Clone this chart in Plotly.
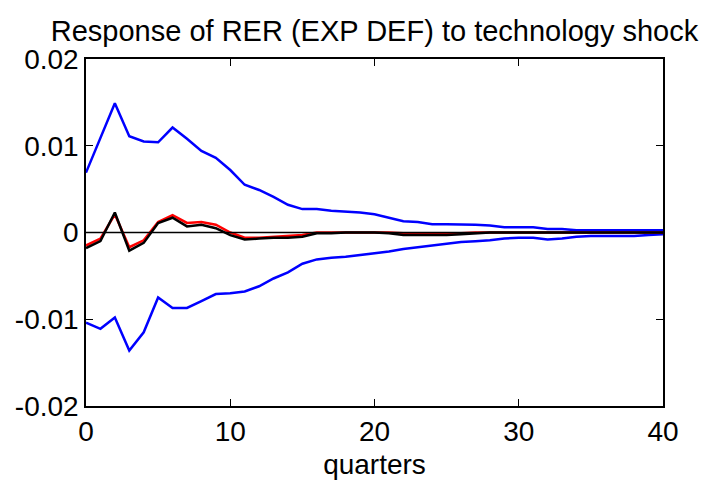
import plotly.graph_objects as go

quarters = list(range(41))

upper_band = [0.0069, 0.0110, 0.0149, 0.0111, 0.0105, 0.0104, 0.0121, 0.0108, 0.0094, 0.0086,
              0.0072, 0.0055, 0.0049, 0.0041, 0.0032, 0.0027, 0.0027, 0.0025, 0.0024, 0.0023,
              0.0021, 0.0017, 0.0013, 0.0012, 0.00095, 0.00095, 0.00095, 0.0009, 0.0008, 0.0006,
              0.0006, 0.0006, 0.0004, 0.0004, 0.00027, 0.00026, 0.00026, 0.00026, 0.00025, 0.00025,
              0.00025]

lower_band = [-0.0104, -0.0111, -0.0098, -0.0136, -0.0115, -0.0075, -0.0087, -0.0087, -0.0079, -0.0071,
              -0.0070, -0.0068, -0.0062, -0.0053, -0.0046, -0.0036, -0.0031, -0.0029, -0.0028, -0.0026,
              -0.0024, -0.0022, -0.0019, -0.0017, -0.0015, -0.0013, -0.0011, -0.0010, -0.0009, -0.0007,
              -0.0006, -0.0006, -0.0008, -0.0007, -0.0005, -0.0004, -0.0004, -0.0004, -0.0004, -0.0003,
              -0.0002]

response_black = [-0.0018, -0.0010, 0.0023, -0.0021, -0.0012, 0.0011, 0.0017, 0.0007, 0.0009, 0.0005,
                  -0.0003, -0.0008, -0.0007, -0.0006, -0.0006, -0.0005, -0.0001, -0.0001, 0.0, 0.0,
                  0.0, -0.0001, -0.0003, -0.0003, -0.0003, -0.0003, -0.0002, -0.0001, 0.0, 0.0,
                  0.0, 0.0, 0.0, 0.0, 0.0, 0.0, 0.0, 0.0, 0.0, 0.0,
                  0.0]

response_red = [-0.0015, -0.0007, 0.0021, -0.0017, -0.0009, 0.0012, 0.0020, 0.0011, 0.0012, 0.0009,
                0.0000, -0.0006, -0.0006, -0.0005, -0.0004, -0.0003, 0.0, 0.0, 0.0, 0.0,
                0.0, 0.0, -0.0001, -0.0001, -0.0001, -0.0001, -0.0001, 0.0, 0.0, 0.0,
                0.0, 0.0, 0.0, 0.0, 0.0, 0.0, 0.0, 0.0, 0.0, 0.0,
                0.0]

zero_line = [0.0] * 41

y_tickvals = [0.02, 0.01, 0.0, -0.01, -0.02]
y_ticktext = ["0.02", "0.01", "0", "-0.01", "-0.02"]
x_tickvals = [0, 10, 20, 30, 40]

FONT = "Liberation Sans, Arial, sans-serif"

fig = go.Figure()
fig.add_trace(go.Scatter(x=quarters, y=upper_band, mode="lines",
                         line=dict(color="#0000ff", width=2.5), showlegend=False))
fig.add_trace(go.Scatter(x=quarters, y=lower_band, mode="lines",
                         line=dict(color="#0000ff", width=2.5), showlegend=False))
fig.add_trace(go.Scatter(x=quarters, y=response_red, mode="lines",
                         line=dict(color="#ff0000", width=2.5), showlegend=False))
fig.add_trace(go.Scatter(x=quarters, y=response_black, mode="lines",
                         line=dict(color="#000000", width=2.5), showlegend=False))
fig.add_trace(go.Scatter(x=quarters, y=zero_line, mode="lines",
                         line=dict(color="#000000", width=1.5), showlegend=False))

fig.update_layout(
    width=718, height=488,
    margin=dict(l=86, r=55, t=59, b=82),
    paper_bgcolor="white", plot_bgcolor="white",
    font=dict(family=FONT, size=28, color="#000000"),
    title=dict(text="Response of RER (EXP DEF) to technology shock",
               font=dict(family=FONT, size=29, color="#000000"),
               xref="paper", x=0.5, xanchor="center",
               yref="container", y=1 - 31 / 488, yanchor="middle"),
    xaxis=dict(range=[0, 40], tickvals=x_tickvals, ticks="inside", ticklen=7,
               tickcolor="#000000", showline=True, linecolor="#000000", linewidth=1.5,
               mirror="ticks", showgrid=False, zeroline=False,
               title=dict(text="quarters", font=dict(size=28), standoff=8),
               tickfont=dict(size=28)),
    yaxis=dict(range=[-0.02, 0.02], tickvals=y_tickvals, ticktext=y_ticktext,
               ticks="inside", ticklen=7, tickcolor="#000000", showline=True,
               linecolor="#000000", linewidth=1.5, mirror="ticks", showgrid=False,
               zeroline=False, tickfont=dict(size=28)),
)

fig.write_html("out.html")
